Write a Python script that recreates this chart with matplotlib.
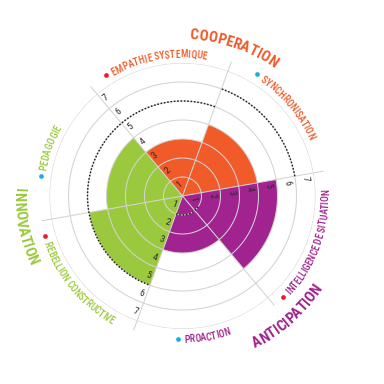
import os
import re
import numpy as np
import matplotlib
matplotlib.use("Agg")
import matplotlib.pyplot as plt
from matplotlib import font_manager as fm
from matplotlib.font_manager import FontProperties, get_font

# ---------------- data ----------------
categories = ["SYNCHRONISATION", "EMPATHIE SYSTEMIQUE", "PEDAGOGIE",
              "REBELLION CONSTRUCTIVE", "PROACTION", "INTELLIGENCE DE SITUATION"]
scores = [4, 3, 4, 5, 3, 5]
category_group = [0, 0, 1, 1, 2, 2]
marker_kind = ["blue", "red", "blue", "red", "blue", "red"]
groups = ["COOPERATION", "INNOVATION", "ANTICIPATION"]
# dotted objective arcs: level, from / to (in sector units)
objective_level = [6, 5, 1]
objective_from = [0, 1, 4]
objective_to = [1, 4, 5.35]
scale_ticks = ["1", "2", "3", "4", "5", "6", "7"]
tick_axis_sector = [0, 2, 4]

# ---------------- style / layout ----------------
group_colors = ["#F15A29", "#9BC93D", "#A0238F"]
marker_colors = {"red": "#EC1C2B", "blue": "#1AAEE8"}
ring_color = "#D3D3D3"
W = H = 384
DPI = 100
CX, CY = 182.5, 196.0
R7 = 133.0
PX = R7 / 7.0
START = 10.0
STEP = 60.0

cat_spans = [31.6, 39.0, 18.4, 43.4, 19.2, 46.2]
group_spans = [31.5, 28.3, 32.4]
CAT_R = 7.5
GRP_R = 8.55

# ---------------- condensed font selection ----------------
PREFIXES = ["liberationsansnarrow", "robotocondensed", "opensanscondensed",
            "notosanscondensed", "dejavusanscondensed"]
WEIGHTS = {"": 400, "regular": 400, "book": 400, "medium": 500, "semibold": 600,
           "bold": 700}


def pick_font(target):
    best = None
    for f in fm.fontManager.ttflist:
        base = os.path.splitext(os.path.basename(f.fname))[0].lower()
        key = re.sub(r"[-_ ]", "", base)
        for rank, p in enumerate(PREFIXES):
            if key.startswith(p):
                rest = key[len(p):]
                if rest in WEIGHTS:
                    sc = rank * 1000 + abs(WEIGHTS[rest] - target)
                    if best is None or sc < best[0]:
                        best = (sc, f.fname)
    return best[1] if best else None


font_files = {w: pick_font(w) for w in (400, 500, 700)}
CONDENSED = font_files[400] is not None
TRACK = 1.0 if CONDENSED else 0.92


def fprop(weight, size):
    path = font_files[weight]
    if path:
        return FontProperties(fname=path, size=size)
    return FontProperties(family="DejaVu Sans", size=size,
                          weight="bold" if weight >= 600 else "normal")


def metrics(text, size, weight):
    prop = fprop(weight, size)
    font = get_font(fm.findfont(prop))
    font.set_size(size, DPI)
    adv = [font.load_char(ord(c)).linearHoriAdvance / 65536.0 for c in text]
    cap = font.load_char(ord("H")).horiBearingY / 64.0
    return adv, cap


fig = plt.figure(figsize=(W / DPI, H / DPI), dpi=DPI)
ax = fig.add_axes([(CX - R7) / W, (H - CY - R7) / H, 2 * R7 / W, 2 * R7 / H],
                  projection="polar")
ax.set_ylim(0, 7)
ax.set_axis_off()

n = len(categories)
mids = np.radians(START + STEP * (np.arange(n) + 0.5))
colors = [group_colors[g] for g in category_group]
ax.bar(mids, scores, width=np.radians(STEP), bottom=0, color=colors,
       edgecolor="none", align="center", zorder=1)

tt = np.linspace(0, 2 * np.pi, 400)
for k in range(1, 8):
    ax.plot(tt, np.full_like(tt, k), color=ring_color, lw=0.75, zorder=2)
for i in range(n):
    a = np.radians(START + STEP * i)
    ax.plot([a, a], [0, 7.5], color=ring_color, lw=0.75, zorder=2, clip_on=False)

for lev, s0, s1 in zip(objective_level, objective_from, objective_to):
    th = np.radians(np.linspace(START + STEP * s0, START + STEP * s1, 200))
    ax.plot(th, np.full_like(th, lev), color="#1E1E1E", lw=1.05,
            ls=(0, (1.1, 1.2)), zorder=3, clip_on=False)

tick_size = 6.8 if CONDENSED else 6.3
for s in tick_axis_sector:
    a_deg = START + STEP * s
    a = np.radians(a_deg)
    rot = a_deg - 90 if a_deg < 180 else a_deg + 90
    for k, lab in enumerate(scale_ticks, start=1):
        rp = (k - 0.45) * PX
        x = rp * np.cos(a) + 5.0 * np.sin(a)
        y = rp * np.sin(a) - 5.0 * np.cos(a)
        ax.text(np.arctan2(y, x), np.hypot(x, y) / PX, lab,
                fontproperties=fprop(400, tick_size), color="#2B2B2B",
                rotation=rot, rotation_mode="anchor", ha="center",
                va="center", zorder=5)


def fit_size(texts, spans, r_units, weight):
    sizes = []
    for t, sp in zip(texts, spans):
        adv, _ = metrics(t, 10, weight)
        nat = np.degrees(TRACK * sum(adv) / (r_units * PX))
        sizes.append(10 * sp / nat)
    return float(np.mean(sizes))


def curved(text, center_deg, r_units, size, color, weight):
    top = 0 < (center_deg % 360) < 180
    adv, cap = metrics(text, size, weight)
    adv = [a * TRACK for a in adv]
    total = sum(adv)
    rc = r_units * PX
    rb = rc - cap / 2 if top else rc + cap / 2
    pos = 0.0
    prop = fprop(weight, size)
    for ch, w in zip(text, adv):
        mid = pos + w / 2 - total / 2
        pos += w
        if ch == " ":
            continue
        if top:
            th = center_deg - np.degrees(mid / rb)
            rot = th - 90
        else:
            th = center_deg + np.degrees(mid / rb)
            rot = th + 90
        ax.text(np.radians(th), rb / PX, ch, fontproperties=prop, color=color,
                rotation=rot, rotation_mode="anchor", ha="center",
                va="baseline", zorder=6)
    half = np.degrees(total / 2 / rb)
    return (center_deg + half) if top else (center_deg - half), top


cat_size = fit_size(categories, cat_spans, CAT_R, 500)
grp_size = fit_size(groups, group_spans, GRP_R, 700)

for i, name in enumerate(categories):
    c_deg = START + STEP * (i + 0.5)
    start, top = curved(name, c_deg, CAT_R, cat_size,
                        group_colors[category_group[i]], 500)
    gap = np.degrees(6.0 / (CAT_R * PX))
    d_deg = start + gap if top else start - gap
    ax.plot(np.radians(d_deg), CAT_R + 0.03, "o", ms=3.4,
            color=marker_colors[marker_kind[i]], mec="none", clip_on=False, zorder=6)

for gi, name in enumerate(groups):
    idx = [i for i, g in enumerate(category_group) if g == gi]
    c_deg = START + STEP * (np.mean(idx) + 0.5) + 1.0
    curved(name, c_deg, GRP_R, grp_size, group_colors[gi], 700)

fig.savefig("out.png", dpi=DPI)
